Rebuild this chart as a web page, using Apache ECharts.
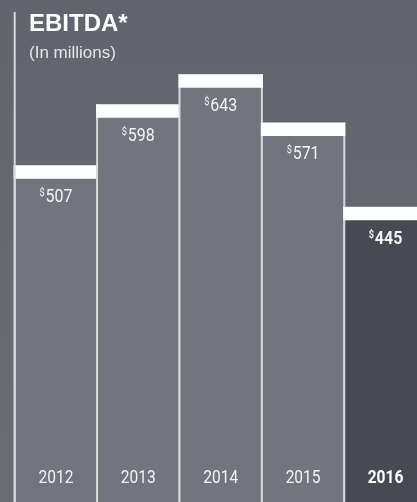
<!DOCTYPE html>
<html>
<head>
<meta charset="utf-8">
<script src="https://cdn.jsdelivr.net/npm/echarts@6/dist/echarts.min.js"></script>
<style>
html,body{margin:0;padding:0;background:#64676f;}
#chart{width:417px;height:502px;}
</style>
</head>
<body>
<div id="chart"></div>
<script>
const years = ['2012', '2013', '2014', '2015', '2016'];
const ebitda = [507, 598, 643, 571, 445];
const highlightYear = '2016';
const titleText = 'EBITDA*';
const subtitleText = '(In millions)';

const FONT = 'Roboto, "Liberation Sans", sans-serif';
const GRID_LEFT = 14.7;
const CAP = 13.5;
const SX = 0.84;

const chart = echarts.init(document.getElementById('chart'), null, {renderer: 'canvas'});

const option = {
  animation: false,
  backgroundColor: {
    type: 'linear', x: 0, y: 0, x2: 0, y2: 1,
    colorStops: [{offset: 0, color: '#61646d'}, {offset: 1, color: '#6a6d76'}]
  },
  title: {
    text: titleText,
    subtext: subtitleText,
    left: 24,
    top: 7,
    itemGap: 9,
    z: 20,
    textStyle: {fontFamily: '"Liberation Sans", Arial, sans-serif', fontWeight: 'bold', fontSize: 24, color: '#ffffff'},
    subtextStyle: {fontFamily: '"Liberation Sans", Arial, sans-serif', fontSize: 17, color: '#e3e4e6'}
  },
  grid: {left: GRID_LEFT, right: -9.7, top: 2.5, bottom: -3, outerBoundsMode: 'none', containLabel: false},
  xAxis: {
    type: 'category',
    data: years,
    axisLine: {show: false},
    axisTick: {show: false},
    axisLabel: {show: false}
  },
  yAxis: {
    type: 'value', min: 0, max: 750,
    show: false, splitLine: {show: false}
  },
  graphic: [{
    type: 'line', z: 5,
    shape: {x1: GRID_LEFT, y1: 12, x2: GRID_LEFT, y2: 502},
    style: {stroke: '#d6d8db', lineWidth: 2}
  }],
  series: [{
    type: 'custom',
    z: 2,
    clip: false,
    data: ebitda.map((v, i) => [i, v]),
    renderItem: function (params, api) {
      const idx = api.value(0);
      const val = api.value(1);
      const top = api.coord([idx, val]);
      const base = api.coord([idx, 0]);
      const w = api.size([1, 0])[0];
      const x0 = top[0] - w / 2;
      const hl = years[idx] === highlightYear;
      const fw = hl ? 'bold' : 'normal';
      return {
        type: 'group',
        children: [
          {type: 'rect', shape: {x: x0, y: top[1], width: w, height: base[1] - top[1]},
           style: {fill: hl ? '#474a53' : '#72757e'}},
          {type: 'line', shape: {x1: x0, y1: top[1], x2: x0, y2: base[1]},
           style: {stroke: '#d6d8db', lineWidth: 2}},
          {type: 'line', shape: {x1: x0 + w, y1: top[1], x2: x0 + w, y2: base[1]},
           style: {stroke: '#d6d8db', lineWidth: 2}},
          {type: 'rect', shape: {x: x0 - 1, y: top[1], width: w + 2, height: CAP},
           style: {fill: '#ffffff'}},
          {type: 'text', x: top[0], y: top[1] + 32, scaleX: SX,
           style: {
             text: '{s|$}{v|' + val + '}',
             align: 'center', verticalAlign: 'middle',
             rich: {
               s: {fontFamily: FONT, fontSize: 11, fontWeight: fw, fill: '#f2f3f4', verticalAlign: 'top', padding: [0, 1, 0, 0]},
               v: {fontFamily: FONT, fontSize: 19, fontWeight: fw, fill: '#f2f3f4'}
             }
           }},
          {type: 'text', x: top[0], y: 478, scaleX: SX,
           style: {
             text: years[idx],
             align: 'center', verticalAlign: 'middle',
             fontFamily: FONT, fontSize: 18.5, fontWeight: fw,
             fill: hl ? '#ffffff' : '#f2f3f4'
           }}
        ]
      };
    }
  }]
};
chart.setOption(option);
</script>
</body>
</html>
